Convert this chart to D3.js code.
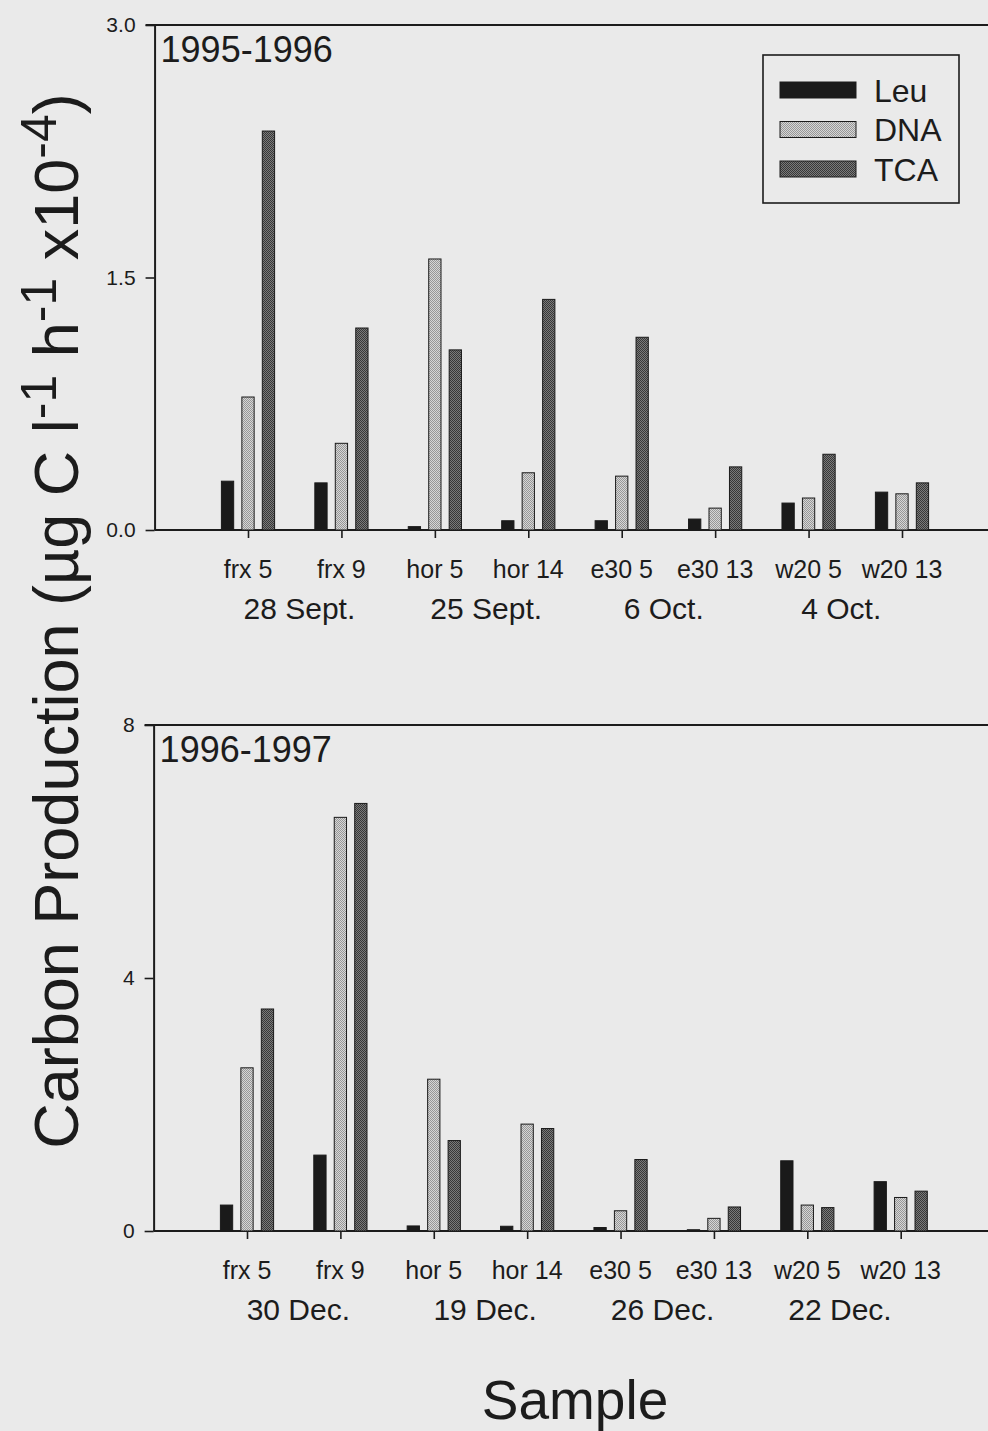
<!DOCTYPE html>
<html>
<head>
<meta charset="utf-8">
<script src="https://cdn.jsdelivr.net/npm/d3@7"></script>
<style>
  html, body { margin: 0; padding: 0; background: #eaeaea; }
  svg { display: block; }
  text { font-family: "Liberation Sans", Arial, sans-serif; fill: #1c1c1c; }
</style>
</head>
<body>
<div id="chart"></div>
<script>
// Samples and the sampling date shared by each pair
const samples = ['frx 5', 'frx 9', 'hor 5', 'hor 14', 'e30 5', 'e30 13', 'w20 5', 'w20 13'];
const series = ['Leu', 'DNA', 'TCA'];

const dates9596 = ['28 Sept.', '25 Sept.', '6 Oct.', '4 Oct.'];
const dates9697 = ['30 Dec.', '19 Dec.', '26 Dec.', '22 Dec.'];
const dateAt = [1.55, 3.55, 5.45, 7.35]; // in sample units, under each pair

// 1995-1996 (µg C l-1 h-1 x10-4)
const leu9596 = [0.29, 0.28, 0.02, 0.055, 0.055, 0.065, 0.16, 0.225];
const dna9596 = [0.79, 0.515, 1.61, 0.34, 0.32, 0.13, 0.19, 0.215];
const tca9596 = [2.37, 1.20, 1.07, 1.37, 1.145, 0.375, 0.45, 0.28];

// 1996-1997
const leu9697 = [0.41, 1.20, 0.08, 0.075, 0.055, 0.02, 1.11, 0.78];
const dna9697 = [2.58, 6.54, 2.40, 1.69, 0.32, 0.20, 0.41, 0.53];
const tca9697 = [3.51, 6.76, 1.43, 1.62, 1.13, 0.38, 0.37, 0.63];

const ticks9596 = [0, 1.5, 3.0];
const ticks9697 = [0, 4, 8];

const W = 988, H = 1431;
const ink = '#1c1c1c';

const svg = d3.select('#chart').append('svg')
  .attr('width', W).attr('height', H).attr('viewBox', `0 0 ${W} ${H}`);

svg.append('rect').attr('width', W).attr('height', H).attr('fill', '#eaeaea');

// Fill patterns: solid black, light stipple, dark stipple
const defs = svg.append('defs');
function checker(id, a, b) {
  const p = defs.append('pattern').attr('id', id)
    .attr('width', 2).attr('height', 2).attr('patternUnits', 'userSpaceOnUse');
  p.append('rect').attr('width', 2).attr('height', 2).attr('fill', a);
  p.append('rect').attr('width', 1).attr('height', 1).attr('fill', b);
  p.append('rect').attr('x', 1).attr('y', 1).attr('width', 1).attr('height', 1).attr('fill', b);
}
checker('pDNA', '#d6d6d6', '#979797');
checker('pTCA', '#7a7a7a', '#383838');
const fills = { Leu: '#1a1a1a', DNA: 'url(#pDNA)', TCA: 'url(#pTCA)' };

function panel(opt) {
  const { x1, x8, yTop, yBase, max, ticks, fmt, title, leu, dna, tca, dates } = opt;
  const x = d3.scaleLinear().domain([1, 8]).range([x1, x8]);
  const y = d3.scaleLinear().domain([0, max]).range([yBase, yTop]);
  const inner = d3.scaleBand().domain(series).range([-26.6, 26.6]).paddingInner(0.4).paddingOuter(0);
  const vals = { Leu: leu, DNA: dna, TCA: tca };
  const g = svg.append('g');

  // frame: top line and left axis
  g.append('line').attr('x1', x(0) - 9).attr('x2', W).attr('y1', yTop).attr('y2', yTop)
    .attr('stroke', ink).attr('stroke-width', 2);

  const yAxis = g.append('g').attr('transform', `translate(${x(0)},0)`)
    .call(d3.axisLeft(y).tickValues(ticks).tickFormat(fmt).tickSize(9).tickSizeOuter(0).tickPadding(10));
  yAxis.attr('font-size', null).attr('font-family', null);
  yAxis.select('.domain').attr('stroke', ink).attr('stroke-width', 2);
  yAxis.selectAll('.tick line').attr('stroke', ink).attr('stroke-width', 1.6);
  yAxis.selectAll('.tick text').style('font-size', '21px').attr('fill', ink);

  // bottom axis with a tick under each sample
  const xAxis = g.append('g').attr('transform', `translate(0,${yBase})`)
    .call(d3.axisBottom(x).tickValues(d3.range(1, 9)).tickFormat('').tickSize(8).tickSizeOuter(0));
  xAxis.select('.domain').attr('d', `M${x(0)},0H${W}`).attr('stroke', ink).attr('stroke-width', 2);
  xAxis.selectAll('.tick line').attr('stroke', ink).attr('stroke-width', 1.6);

  // bars
  samples.forEach((s, i) => {
    series.forEach((k) => {
      const v = vals[k][i];
      g.append('rect')
        .attr('x', x(i + 1) + inner(k))
        .attr('width', inner.bandwidth())
        .attr('y', y(v))
        .attr('height', y(0) - y(v))
        .attr('fill', fills[k])
        .attr('stroke', '#1a1a1a').attr('stroke-width', 1);
    });
  });

  // sample names and dates
  g.selectAll('.sname').data(samples).join('text')
    .attr('x', (d, i) => x(i + 1)).attr('y', yBase + 48)
    .attr('text-anchor', 'middle').attr('font-size', 25).text((d) => d);
  g.selectAll('.sdate').data(dates).join('text')
    .attr('x', (d, i) => x(dateAt[i])).attr('y', yBase + 89)
    .attr('text-anchor', 'middle').attr('font-size', 30).text((d) => d);

  g.append('text').attr('x', x(0) + 6).attr('y', yTop + 37)
    .attr('font-size', 36).text(title);
}

panel({
  x1: 248, x8: 902, yTop: 25, yBase: 530, max: 3,
  ticks: ticks9596, fmt: d3.format('.1f'), title: '1995-1996',
  leu: leu9596, dna: dna9596, tca: tca9596, dates: dates9596
});
panel({
  x1: 247, x8: 900.7, yTop: 725, yBase: 1231, max: 8,
  ticks: ticks9697, fmt: d3.format('d'), title: '1996-1997',
  leu: leu9697, dna: dna9697, tca: tca9697, dates: dates9697
});

// legend
const lg = svg.append('g').attr('transform', 'translate(763,55)');
lg.append('rect').attr('width', 196).attr('height', 148)
  .attr('fill', 'none').attr('stroke', ink).attr('stroke-width', 1.6);
series.forEach((k, i) => {
  const cy = 35 + i * 39.5;
  lg.append('rect').attr('x', 17).attr('y', cy - 8).attr('width', 76).attr('height', 16)
    .attr('fill', fills[k]).attr('stroke', '#1a1a1a').attr('stroke-width', 1);
  lg.append('text').attr('x', 111).attr('y', cy + 11.5).attr('font-size', 32).text(k);
});

// axis titles
const yt = svg.append('text').attr('transform', 'translate(78,621) rotate(-90)')
  .attr('text-anchor', 'middle').attr('font-size', 63);
const parts = [
  ['Carbon Production (µg C l', 0], ['-1', 1], [' h', 0], ['-1', 1], [' x10', 0], ['-4', 1], [')', 0]
];
let raised = false;
parts.forEach(([t, sup]) => {
  const ts = yt.append('tspan').text(t);
  if (sup && !raised) { ts.attr('dy', -22).attr('font-size', 50); raised = true; }
  else if (sup) { ts.attr('font-size', 50); }
  else if (raised) { ts.attr('dy', 22); raised = false; }
});

svg.append('text').attr('x', 575).attr('y', 1419).attr('text-anchor', 'middle')
  .attr('font-size', 55).text('Sample');
</script>
</body>
</html>
